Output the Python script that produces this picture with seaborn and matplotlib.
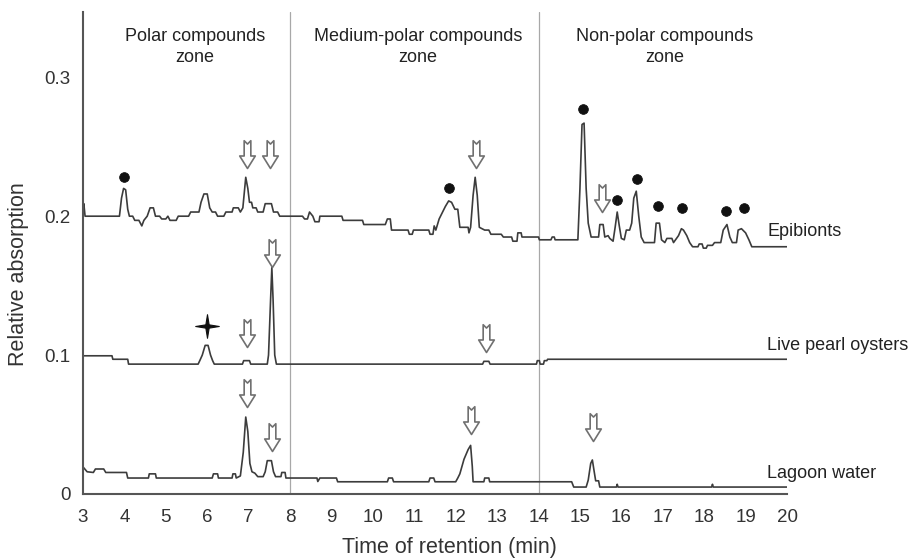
import numpy as np
import matplotlib
matplotlib.use("Agg")
import matplotlib.pyplot as plt
from matplotlib.path import Path
import seaborn as sns

# ---------------------------------------------------------------
# Chromatogram traces (time in min, relative absorption)
# ---------------------------------------------------------------
epi_x = [3.0, 3.02, 3.05, 3.88, 3.93, 3.98, 4.03, 4.08, 4.12, 4.2, 4.25, 4.35, 4.42, 4.47,
         4.55, 4.62, 4.7, 4.75, 4.85, 4.9, 5.0, 5.05, 5.1, 5.25, 5.3, 5.55, 5.6, 5.8, 5.85,
         5.92, 6.0, 6.06, 6.12, 6.2, 6.25, 6.4, 6.45, 6.6, 6.63, 6.75, 6.8, 6.86, 6.93, 6.98,
         7.02, 7.07, 7.1, 7.18, 7.22, 7.35, 7.4, 7.55, 7.6, 7.7, 7.75, 8.0,
         8.3, 8.35, 8.42, 8.47, 8.55, 8.6, 8.7, 8.72, 9.25, 9.28, 9.75, 9.78, 10.3, 10.35,
         10.42, 10.45, 10.85, 10.88, 10.95, 10.98, 11.35, 11.38, 11.45, 11.48, 11.52, 11.6,
         11.75, 11.83, 11.9, 11.98, 12.05, 12.1, 12.3, 12.32, 12.36, 12.42, 12.47, 12.52,
         12.57, 12.7, 12.8, 12.85, 13.1, 13.15, 13.35, 13.38, 13.48, 13.5, 13.58, 13.6, 14.0,
         14.02, 14.3, 14.33, 14.38, 14.4, 14.95, 15.0, 15.05, 15.1, 15.15, 15.2, 15.27, 15.45,
         15.48, 15.56, 15.6, 15.68, 15.72, 15.8, 15.85, 15.9, 15.95, 16.0, 16.07, 16.12, 16.2,
         16.25, 16.3, 16.36, 16.42, 16.48, 16.55, 16.8, 16.84, 16.92, 16.97, 17.05, 17.1,
         17.22, 17.26, 17.38, 17.45, 17.5, 17.58, 17.65, 17.72, 17.85, 17.88, 17.95, 17.98,
         18.05, 18.08, 18.2, 18.25, 18.4, 18.46, 18.55, 18.62, 18.68, 18.78, 18.82, 18.9,
         19.0, 19.08, 19.15, 20.0]
epi_y = [0.203, 0.209, 0.2, 0.2, 0.213, 0.22, 0.219, 0.205, 0.2, 0.2, 0.197, 0.197, 0.193,
         0.197, 0.2, 0.206, 0.206, 0.2, 0.2, 0.198, 0.198, 0.2, 0.197, 0.197, 0.2, 0.2, 0.203,
         0.203, 0.21, 0.216, 0.216, 0.206, 0.203, 0.203, 0.2, 0.2, 0.203, 0.203, 0.206, 0.206,
         0.203, 0.206, 0.228, 0.22, 0.21, 0.21, 0.206, 0.206, 0.203, 0.203, 0.209, 0.209,
         0.203, 0.203, 0.2, 0.2,
         0.2, 0.198, 0.198, 0.203, 0.2, 0.196, 0.196, 0.2, 0.2, 0.197, 0.197, 0.194, 0.194,
         0.198, 0.198, 0.19, 0.19, 0.187, 0.187, 0.19, 0.19, 0.187, 0.187, 0.193, 0.19, 0.198,
         0.207, 0.211, 0.21, 0.205, 0.205, 0.192, 0.192, 0.188, 0.192, 0.215, 0.228, 0.215,
         0.192, 0.19, 0.19, 0.187, 0.187, 0.185, 0.185, 0.182, 0.182, 0.188, 0.188, 0.185,
         0.185,
         0.183, 0.183, 0.185, 0.185, 0.183, 0.183, 0.22, 0.266, 0.267, 0.22, 0.195, 0.185,
         0.185, 0.194, 0.194, 0.185, 0.186, 0.184, 0.182, 0.192, 0.203, 0.193, 0.184, 0.183,
         0.19, 0.19, 0.195, 0.213, 0.218, 0.2, 0.185, 0.181, 0.181, 0.195, 0.195, 0.183,
         0.181, 0.184, 0.184, 0.181, 0.186, 0.191, 0.19, 0.186, 0.181, 0.178, 0.178, 0.18,
         0.18, 0.177, 0.177, 0.179, 0.179, 0.181, 0.181, 0.19, 0.194, 0.185, 0.181, 0.181,
         0.19, 0.191, 0.188, 0.183, 0.178, 0.178]

oys_x = [3.0, 3.7, 3.72, 4.08, 4.1, 5.78, 5.82, 5.88, 5.95, 6.02, 6.08, 6.13, 6.17, 6.85,
         6.88, 7.02, 7.05, 7.45, 7.48, 7.53, 7.56, 7.59, 7.63, 7.67, 12.65, 12.68, 12.8,
         12.83, 13.95, 13.97, 14.02, 14.04, 14.12, 14.14, 14.2, 14.22, 20.0]
oys_y = [0.0995, 0.0995, 0.097, 0.097, 0.0935, 0.0935, 0.096, 0.1, 0.107, 0.107, 0.1,
         0.096, 0.0935, 0.0935, 0.096, 0.096, 0.0935, 0.0935, 0.1, 0.14, 0.163, 0.14, 0.1,
         0.0935, 0.0935, 0.0955, 0.0955, 0.0935, 0.0935, 0.096, 0.096, 0.0935, 0.0935,
         0.096, 0.096, 0.097, 0.097]

lag_x = [3.0, 3.1, 3.25, 3.3, 3.5, 3.55, 4.05, 4.08, 4.58, 4.6, 4.75, 4.77, 6.12, 6.15,
         6.25, 6.27, 6.6, 6.62, 6.68, 6.7, 6.8, 6.87, 6.93, 6.98, 7.03, 7.08, 7.15, 7.22,
         7.35, 7.4, 7.45, 7.55, 7.6, 7.65, 7.78, 7.8, 7.88, 7.9, 8.65, 8.67, 8.72, 9.12,
         9.15, 10.35, 10.38, 10.47, 10.5, 11.35, 11.38, 11.47, 11.5, 12.0, 12.05, 12.1,
         12.2, 12.3, 12.36, 12.4, 12.42, 12.68, 12.7, 12.8, 12.82, 14.8, 14.85, 15.15,
         15.2, 15.26, 15.3, 15.35, 15.38, 15.45, 15.48, 15.88, 15.9, 15.92, 18.18, 18.2,
         18.22, 20.0]
lag_y = [0.0195, 0.016, 0.0155, 0.018, 0.018, 0.0155, 0.0155, 0.0115, 0.0115, 0.0145,
         0.0145, 0.0115, 0.0115, 0.0145, 0.0145, 0.0115, 0.0115, 0.0145, 0.0145, 0.0115,
         0.013, 0.03, 0.0554, 0.045, 0.022, 0.016, 0.015, 0.0125, 0.0125, 0.016, 0.024,
         0.024, 0.016, 0.0125, 0.0125, 0.0155, 0.0155, 0.0115, 0.0115, 0.009, 0.0115,
         0.0115, 0.0088, 0.0088, 0.0115, 0.0115, 0.0088, 0.0088, 0.0115, 0.0115, 0.0088,
         0.0088, 0.0115, 0.0145, 0.025, 0.032, 0.035, 0.02, 0.0088, 0.0088, 0.0115, 0.0115,
         0.0088, 0.0088, 0.005, 0.005, 0.01, 0.022, 0.0245, 0.015, 0.0095, 0.0095, 0.005,
         0.005, 0.007, 0.005, 0.005, 0.007, 0.005, 0.005]

# annotation markers
dot_x = [4.0, 11.85, 15.07, 15.9, 16.37, 16.88, 17.46, 18.53, 18.96]
dot_y = [0.228, 0.220, 0.277, 0.212, 0.227, 0.207, 0.206, 0.204, 0.206]

arrow_x = [6.95, 7.52, 12.49, 15.53, 6.95, 7.56, 12.72, 6.95, 7.56, 12.37, 15.32]
arrow_y = [0.2345, 0.2345, 0.235, 0.203, 0.1057, 0.1633, 0.102, 0.0626, 0.031, 0.043, 0.038]

star_x = [5.99]
star_y = [0.121]

zone_bounds = [8, 14]
zone_labels = ["Polar compounds\nzone", "Medium-polar compounds\nzone", "Non-polar compounds\nzone"]
zone_centers = [5.70, 11.09, 17.05]

trace_names = ["Epibionts", "Live pearl oysters", "Lagoon water"]
trace_label_y = [0.189, 0.107, 0.015]

xticks = list(range(3, 21))
yticks = [0, 0.1, 0.2, 0.3]
yticklabels = ["0", "0.1", "0.2", "0.3"]

# ---------------------------------------------------------------
sns.set_theme(style="white")
plt.rcParams["font.family"] = ["Liberation Sans", "DejaVu Sans"]

fig = plt.figure(figsize=(9.09, 5.6), dpi=100)
ax = fig.add_axes([83 / 909, 1 - 494 / 560, 704 / 909, 482 / 560])

line_col = "#3c3c3c"
for xs, ys in [(epi_x, epi_y), (oys_x, oys_y), (lag_x, lag_y)]:
    sns.lineplot(x=xs, y=ys, sort=False, estimator=None, color=line_col, lw=1.2, ax=ax)

for b in zone_bounds:
    ax.axvline(b, color="#a8a8a8", lw=0.9, zorder=0)

# hollow arrow marker: tip at origin, notched tail on top
arrow_path = Path([(0, 0), (0.28, 0.45), (0.12, 0.45), (0.12, 1.0), (0, 0.88),
                   (-0.12, 1.0), (-0.12, 0.45), (-0.28, 0.45), (0, 0)],
                  [Path.MOVETO] + [Path.LINETO] * 7 + [Path.CLOSEPOLY])
star_path = Path([(0, 1), (0.14, 0.14), (1, 0), (0.14, -0.14), (0, -1), (-0.14, -0.14),
                  (-1, 0), (-0.14, 0.14), (0, 1)],
                 [Path.MOVETO] + [Path.LINETO] * 7 + [Path.CLOSEPOLY])

sns.scatterplot(x=arrow_x, y=arrow_y, marker=arrow_path, s=40 ** 2, color="white",
                edgecolor="#707070", linewidth=1.2, ax=ax, zorder=4)
sns.scatterplot(x=dot_x, y=dot_y, marker="o", s=7 ** 2, color="#111111",
                edgecolor="#111111", ax=ax, zorder=4)
sns.scatterplot(x=star_x, y=star_y, marker=star_path, s=17 ** 2, color="#111111",
                edgecolor="#111111", linewidth=0.8, ax=ax, zorder=4)

for lab, cx in zip(zone_labels, zone_centers):
    ax.text(cx, 0.322, lab, ha="center", va="center", fontsize=13, color="#222222",
            linespacing=1.3)

for name, ty in zip(trace_names, trace_label_y):
    ax.text(19.52, ty, name, ha="left", va="center", fontsize=13, color="#222222",
            clip_on=False)

ax.set_xlim(3, 20)
ax.set_ylim(0, 0.347)
ax.set_xticks(xticks)
ax.set_yticks(yticks)
ax.set_yticklabels(yticklabels)
ax.tick_params(axis="both", direction="out", length=4, width=1.2, color="#555555",
               labelsize=13.5, labelcolor="#333333")
ax.tick_params(axis="x", pad=7)
ax.tick_params(axis="y", pad=5)
for side in ["top", "right"]:
    ax.spines[side].set_visible(False)
for side in ["left", "bottom"]:
    ax.spines[side].set_color("#555555")
    ax.spines[side].set_linewidth(1.5)

ax.set_xlabel("Time of retention (min)", fontsize=15.5, color="#333333")
ax.set_ylabel("Relative absorption", fontsize=15.5, color="#333333")
ax.xaxis.label.set_va("center")
ax.yaxis.label.set_va("center")
ax.xaxis.set_label_coords(0.52, -0.11)
ax.yaxis.set_label_coords(-0.092, 0.456)

fig.savefig("out.png", dpi=100)
